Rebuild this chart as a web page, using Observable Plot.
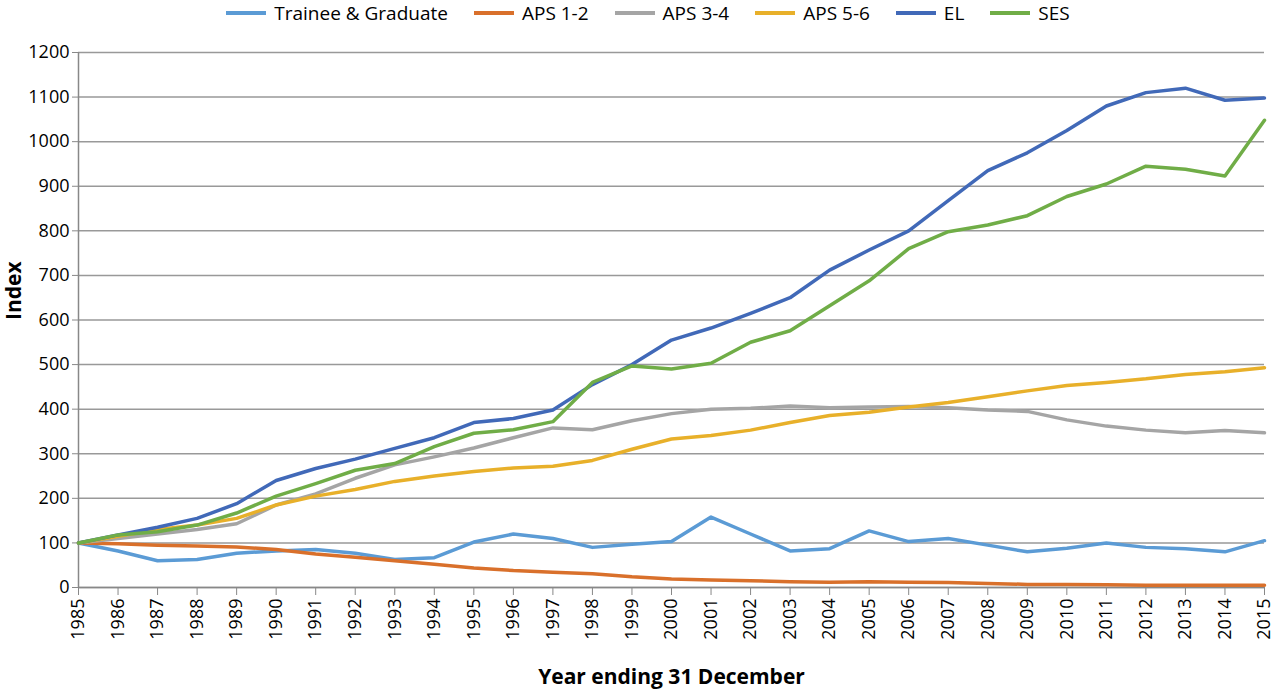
<!DOCTYPE html>
<html><head><meta charset="utf-8">
<script src="https://cdn.jsdelivr.net/npm/d3@7"></script>
<script src="https://cdn.jsdelivr.net/npm/@observablehq/plot@0.6"></script>
<style>
body{margin:0;background:#fff;font-family:"Open Sans","Liberation Sans",sans-serif;}
#legend{height:25px;display:flex;justify-content:center;gap:26px;font-size:19px;align-items:center;padding-left:20px}
#legend span{display:flex;align-items:center;gap:8px}
#legend i{display:inline-block;width:40px;height:4px}
</style></head><body>
<div id="legend"></div>
<div id="chart"></div>
<script>
const years = d3.range(1985, 2016);
const seriesNames = ["Trainee & Graduate","APS 1-2","APS 3-4","APS 5-6","EL","SES"];
const colors = ["#5b9bd5","#d9702b","#a5a5a5","#e8b02a","#4169b8","#70ad47"];
const trainee = [100,82,60,63,77,82,85,77,63,67,102,120,110,90,97,103,158,120,82,87,127,103,110,95,80,88,100,90,87,80,105];
const aps12 = [100,98,95,93,91,85,75,68,60,52,44,38,34,31,24,19,17,15,13,12,13,12,11,9,7,7,6,5,5,5,5];
const aps34 = [100,110,120,130,143,185,210,245,275,293,313,336,358,354,374,390,400,402,407,403,405,406,403,398,395,376,362,353,347,352,347];
const aps56 = [100,115,130,140,155,185,205,220,238,250,260,268,272,285,310,333,341,353,370,386,393,405,415,428,441,453,460,468,478,484,493];
const el = [100,118,135,155,188,240,267,288,312,336,370,379,398,455,500,555,582,615,650,712,757,800,868,935,975,1025,1080,1110,1120,1093,1098];
const ses = [100,118,125,140,167,205,233,263,278,316,346,354,372,460,497,490,503,550,576,632,688,760,798,813,834,877,905,945,938,923,1048];
const allSeries = [trainee, aps12, aps34, aps56, el, ses];
const data = allSeries.flatMap((vals, i) => vals.map((v, j) => ({year: years[j], value: v, series: seriesNames[i]})));

const lg = document.getElementById("legend");
seriesNames.forEach((n,i)=>{const s=document.createElement("span");s.innerHTML=`<i style="background:${colors[i]}"></i>${n}`;lg.appendChild(s);});

const chart = Plot.plot({
  width: 1276, height: 670,
  marginLeft: 78, marginRight: 12, marginTop: 27, marginBottom: 108,
  style: {fontSize: "18px", fontFamily: "'Open Sans','Liberation Sans',sans-serif", color: "#000"},
  x: {domain: [1985, 2015]},
  y: {domain: [0, 1200]},
  color: {domain: seriesNames, range: colors},
  marks: [
    Plot.gridY(d3.range(0, 1201, 100), {stroke: "#999", strokeOpacity: 1, strokeWidth: 1.5}),
    Plot.axisY(d3.range(0, 1201, 100), {tickFormat: "d", tickSize: 6, tickPadding: 3, label: null, stroke: "#888"}),
    Plot.axisX(years, {tickFormat: "d", tickRotate: -90, tickSize: 8, label: null, stroke: "#888"}),
    Plot.ruleX([1985], {stroke: "#888", strokeWidth: 1.5}),
    Plot.ruleY([0], {stroke: "#888", strokeWidth: 1.5}),
    Plot.line(data, {x: "year", y: "value", z: "series", stroke: "series", strokeWidth: 3.5}),
    Plot.text(["Index"], {frameAnchor: "left", dx: -64, rotate: -90, fontWeight: "bold", fontSize: 21}),
    Plot.text(["Year ending 31 December"], {frameAnchor: "bottom", dy: 96, fontWeight: "bold", fontSize: 21})
  ]
});
document.getElementById("chart").appendChild(chart);
</script></body></html>
